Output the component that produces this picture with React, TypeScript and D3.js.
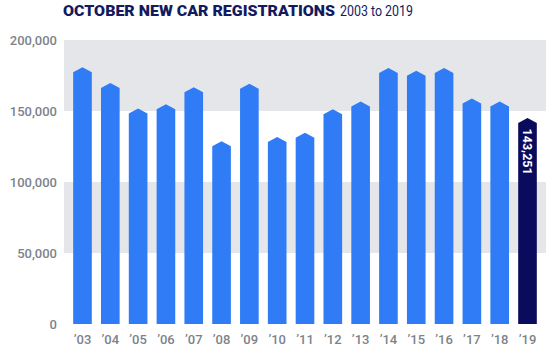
import React from "react";
import * as d3 from "d3";

const years = ["03", "04", "05", "06", "07", "08", "09", "10", "11", "12", "13", "14", "15", "16", "17", "18", "19"];
const registrations = [179000, 168000, 150000, 153000, 165000, 127000, 167500, 130000, 133000, 149500, 155000, 178500, 176500, 178500, 157000, 155000, 143251];
const yTicks = [0, 50000, 100000, 150000, 200000];
const shadedBands = [[50000, 100000], [150000, 200000]];

const width = 550;
const height = 352;
const margin = { top: 40, right: 4, bottom: 28, left: 64 };

const App = () => {
  const x = d3
    .scaleBand()
    .domain(years)
    .range([margin.left, width - margin.right])
    .paddingInner(0.33)
    .paddingOuter(0.33);

  const y = d3
    .scaleLinear()
    .domain([0, 200000])
    .range([height - margin.bottom, margin.top]);

  const fmt = d3.format(",");
  const bw = x.bandwidth();

  // bar with a pointed roof, the value sits mid-way up the point
  const barPath = (yr, v) => {
    const x0 = x(yr);
    const x1 = x0 + bw;
    const top = y(v);
    const peak = top - 2.5;
    const shoulder = top + 2.5;
    const base = y(0);
    return `M${x0},${base}L${x0},${shoulder}L${(x0 + x1) / 2},${peak}L${x1},${shoulder}L${x1},${base}Z`;
  };

  const last = years.length - 1;

  return (
    <svg width={width} height={height} style={{ position: "absolute", left: 0, top: 0, background: "#fff" }}>
      <text x={63} y={16} fontFamily="Roboto, sans-serif" fontSize={15} fill="#141a5e">
        <tspan fontWeight="900" textLength={272} lengthAdjust="spacingAndGlyphs">OCTOBER NEW CAR REGISTRATIONS</tspan>
        <tspan x={340} textLength={73} lengthAdjust="spacingAndGlyphs">2003 to 2019</tspan>
      </text>

      {shadedBands.map(([a, b], i) => (
        <rect
          key={i}
          x={margin.left}
          width={width - margin.right - margin.left}
          y={y(b)}
          height={y(a) - y(b)}
          fill="#e4e6e9"
        />
      ))}

      {yTicks.map((t) => (
        <text
          key={t}
          x={57}
          y={y(t)}
          dy="0.35em"
          textAnchor="end"
          fontFamily="Roboto, sans-serif"
          fontWeight="500"
          fontSize={13}
          fill="#7d838b"
        >
          {fmt(t)}
        </text>
      ))}

      {registrations.map((v, i) => (
        <path key={years[i]} d={barPath(years[i], v)} fill={i === last ? "#0b0b5e" : "#2f7cf6"} />
      ))}

      <text
        transform={`translate(${x(years[last]) + bw / 2},${y(registrations[last]) + 8}) rotate(90)`}
        dy="0.35em"
        fontFamily="Roboto, sans-serif"
        fontWeight="bold"
        fontSize={12.5}
        fill="#fff"
      >
        {fmt(registrations[last])}
      </text>

      {years.map((yr) => (
        <text
          key={yr}
          x={x(yr) + bw / 2}
          y={344}
          textAnchor="middle"
          fontFamily="Roboto, sans-serif"
          fontWeight="500"
          fontSize={13}
          fill="#7d838b"
        >
          {"\u2019" + yr}
        </text>
      ))}
    </svg>
  );
};

export default App;
